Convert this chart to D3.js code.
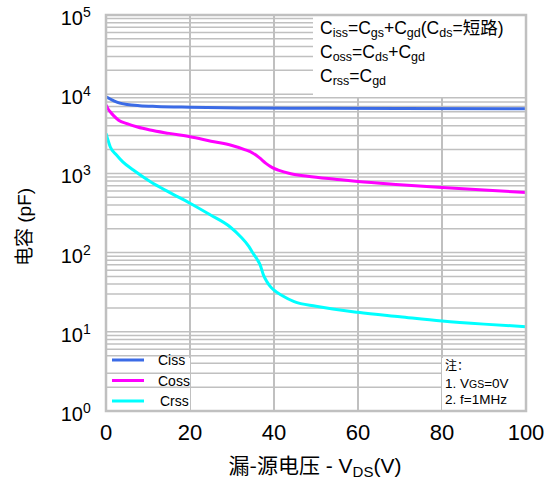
<!DOCTYPE html>
<html>
<head>
<meta charset="utf-8">
<style>
  body { margin: 0; background: #fff; }
  svg { display: block; }
  text { font-family: "Liberation Sans", Arial, sans-serif; fill: #000; }
  .cjk { font-family: "Noto Sans CJK SC", "Liberation Sans", sans-serif; }
</style>
</head>
<body>
<div id="chart-area"></div>

<script src="https://cdnjs.cloudflare.com/ajax/libs/d3/7.8.5/d3.min.js"></script>
<script>
    // values (V in volts, C in pF)
    const cissV = [0, 1, 2, 3.3, 5, 8, 12, 20, 32, 50, 70, 100];
    const cissC = [9300, 8700, 8200, 7700, 7400, 7150, 7000, 6850, 6700, 6650, 6600, 6550];

    const cossV = [0, 0.5, 1, 1.75, 3, 5, 7.5, 10.5, 15, 20, 25, 30, 33, 35, 36.5, 38, 39.5, 41, 44, 48, 55, 60, 70, 80, 90, 100];
    const cossC = [7300, 6500, 6000, 5400, 4700, 4250, 3850, 3530, 3200, 2900, 2550, 2250, 2000, 1800, 1580, 1350, 1190, 1100, 990, 920, 840, 790, 720, 662, 615, 575];

    const crssV = [0, 0.5, 1, 2.5, 4, 6.5, 10.5, 15, 20, 24.8, 29.5, 32, 34, 35, 36, 36.7, 37.5, 38.3, 39, 40, 42, 44.8, 50, 60, 70, 80, 90, 100];
    const crssC = [3200, 2600, 2170, 1710, 1400, 1105, 790, 580, 420, 300, 212, 160, 120, 98, 82, 70, 52, 43, 38, 33.5, 28.5, 24, 21, 17.6, 15.5, 13.7, 12.5, 11.6];

    const xTicks = [0, 20, 40, 60, 80, 100];
    const yExps = [0, 1, 2, 3, 4, 5];

    const seriesNames = ["Ciss", "Coss", "Crss"];
    const seriesColors = ["#3b6be6", "#ff00ff", "#00ffff"];

    const width = 545;
    const height = 480;
    const plot = {left: 106, right: 526, top: 15, bottom: 411};
    const gridColor = "#c0c0c0";

    const svg = d3.select("#chart-area")
        .append("svg")
            .attr("width", width)
            .attr("height", height);

    const x = d3.scaleLinear().domain([0, 100]).range([plot.left, plot.right]);
    const y = d3.scaleLog().domain([1, 1e5]).range([plot.bottom, plot.top]);

    // horizontal grid: every 1..9 x 10^n
    const hLines = [];
    yExps.slice(0, -1).forEach(e => {
        for (let k = 1; k <= 9; k++) hLines.push(k * Math.pow(10, e));
    });
    svg.append("g").selectAll("line")
        .data(hLines)
        .enter().append("line")
            .attr("x1", plot.left).attr("x2", plot.right)
            .attr("y1", d => y(d)).attr("y2", d => y(d))
            .attr("stroke", gridColor)
            .attr("stroke-width", 1.5);

    svg.append("g").selectAll("line")
        .data(xTicks.slice(1, -1))
        .enter().append("line")
            .attr("x1", d => x(d)).attr("x2", d => x(d))
            .attr("y1", plot.top).attr("y2", plot.bottom)
            .attr("stroke", gridColor)
            .attr("stroke-width", 2);

    // curves
    svg.append("clipPath").attr("id", "clip")
        .append("rect")
            .attr("x", plot.left).attr("y", plot.top)
            .attr("width", plot.right - plot.left)
            .attr("height", plot.bottom - plot.top);

    const line = d3.line()
        .x(d => x(d[0]))
        .y(d => y(d[1]))
        .curve(d3.curveMonotoneX);

    const series = [
        d3.zip(cissV, cissC),
        d3.zip(cossV, cossC),
        d3.zip(crssV, crssC)
    ];

    svg.append("g").attr("clip-path", "url(#clip)")
        .selectAll("path")
        .data(series)
        .enter().append("path")
            .attr("d", line)
            .attr("fill", "none")
            .attr("stroke", (d, i) => seriesColors[i])
            .attr("stroke-width", 3);

    // formula box, top right
    svg.append("rect")
        .attr("x", 313).attr("y", plot.top)
        .attr("width", plot.right - 313).attr("height", 82)
        .attr("fill", "#fff");

    const formulas = [
        [["C", 0], ["iss", 1], ["=C", 0], ["gs", 1], ["+C", 0], ["gd", 1], ["(C", 0], ["ds", 1], ["=", 0], ["短路", 2], [")", 0]],
        [["C", 0], ["oss", 1], ["=C", 0], ["ds", 1], ["+C", 0], ["gd", 1]],
        [["C", 0], ["rss", 1], ["=C", 0], ["gd", 1]]
    ];
    formulas.forEach((parts, i) => {
        const t = svg.append("text")
            .attr("x", 320).attr("y", 34 + i * 24)
            .attr("font-size", 17.5);
        let prevSub = false;
        parts.forEach(p => {
            const sub = p[1] === 1;
            const ts = t.append("tspan").text(p[0]);
            if (sub) ts.attr("font-size", 12.5).attr("dy", prevSub ? 0 : 3);
            else ts.attr("dy", prevSub ? -3 : 0);
            if (p[1] === 2) ts.attr("class", "cjk");
            prevSub = sub;
        });
    });

    // legend, bottom left
    svg.append("rect")
        .attr("x", plot.left).attr("y", 358)
        .attr("width", x(20) - plot.left).attr("height", plot.bottom - 358)
        .attr("fill", "#fff");
    svg.append("g").selectAll("line")
        .data([2, 3])
        .enter().append("line")
            .attr("x1", plot.left).attr("x2", x(20))
            .attr("y1", d => y(d)).attr("y2", d => y(d))
            .attr("stroke", gridColor)
            .attr("stroke-width", 1.5);

    const legend = svg.append("g").selectAll("g")
        .data(seriesNames)
        .enter().append("g")
            .attr("transform", (d, i) => `translate(0, ${360 + i * 20.5})`);
    legend.append("line")
        .attr("x1", 112).attr("x2", 144)
        .attr("stroke", (d, i) => seriesColors[i])
        .attr("stroke-width", 3);
    legend.append("text")
        .attr("x", (d, i) => i === 2 ? 160 : 158)
        .attr("y", 5)
        .attr("font-size", 14)
        .text(d => d);

    // note box, bottom right
    svg.append("rect")
        .attr("x", x(80)).attr("y", 358)
        .attr("width", plot.right - x(80)).attr("height", plot.bottom - 358)
        .attr("fill", "#fff");
    svg.append("text").attr("class", "cjk")
        .attr("x", 445).attr("y", 370).attr("font-size", 12)
        .text("注：");
    const n1 = svg.append("text").attr("x", 445).attr("y", 388).attr("font-size", 13.5);
    n1.append("tspan").text("1. V");
    n1.append("tspan").attr("font-size", 10.5).text("GS");
    n1.append("tspan").text("=0V");
    svg.append("text").attr("x", 445).attr("y", 404).attr("font-size", 13.5)
        .text("2. f=1MHz");

    // frame
    svg.append("rect")
        .attr("x", plot.left).attr("y", plot.top)
        .attr("width", plot.right - plot.left)
        .attr("height", plot.bottom - plot.top)
        .attr("fill", "none")
        .attr("stroke", gridColor)
        .attr("stroke-width", 2.5);

    // tick labels
    svg.append("g").selectAll("text")
        .data(xTicks)
        .enter().append("text")
            .attr("x", d => x(d))
            .attr("y", 440)
            .attr("text-anchor", "middle")
            .attr("font-size", 22)
            .text(d => d);

    svg.append("g").selectAll("text")
        .data(yExps)
        .enter().append("text")
            .attr("x", 83)
            .attr("y", d => y(Math.pow(10, d)) + 10)
            .attr("text-anchor", "end")
            .attr("font-size", 20)
            .text("10");
    svg.append("g").selectAll("text")
        .data(yExps)
        .enter().append("text")
            .attr("x", 83)
            .attr("y", d => y(Math.pow(10, d)) + 2)
            .attr("font-size", 14)
            .text(d => d);

    // axis titles
    const xt = svg.append("text")
        .attr("x", 315).attr("y", 473)
        .attr("text-anchor", "middle")
        .attr("font-size", 21);
    xt.append("tspan").attr("class", "cjk").text("漏-源电压");
    xt.append("tspan").text(" - V");
    xt.append("tspan").attr("font-size", 15).attr("dy", 4).text("DS");
    xt.append("tspan").attr("dy", -4).text("(V)");

    const yt = svg.append("text")
        .attr("transform", "translate(31, 227) rotate(-90)")
        .attr("text-anchor", "middle")
        .attr("font-size", 19);
    yt.append("tspan").attr("class", "cjk").text("电容");
    yt.append("tspan").text(" (pF)");
</script>
</body>
</html>
